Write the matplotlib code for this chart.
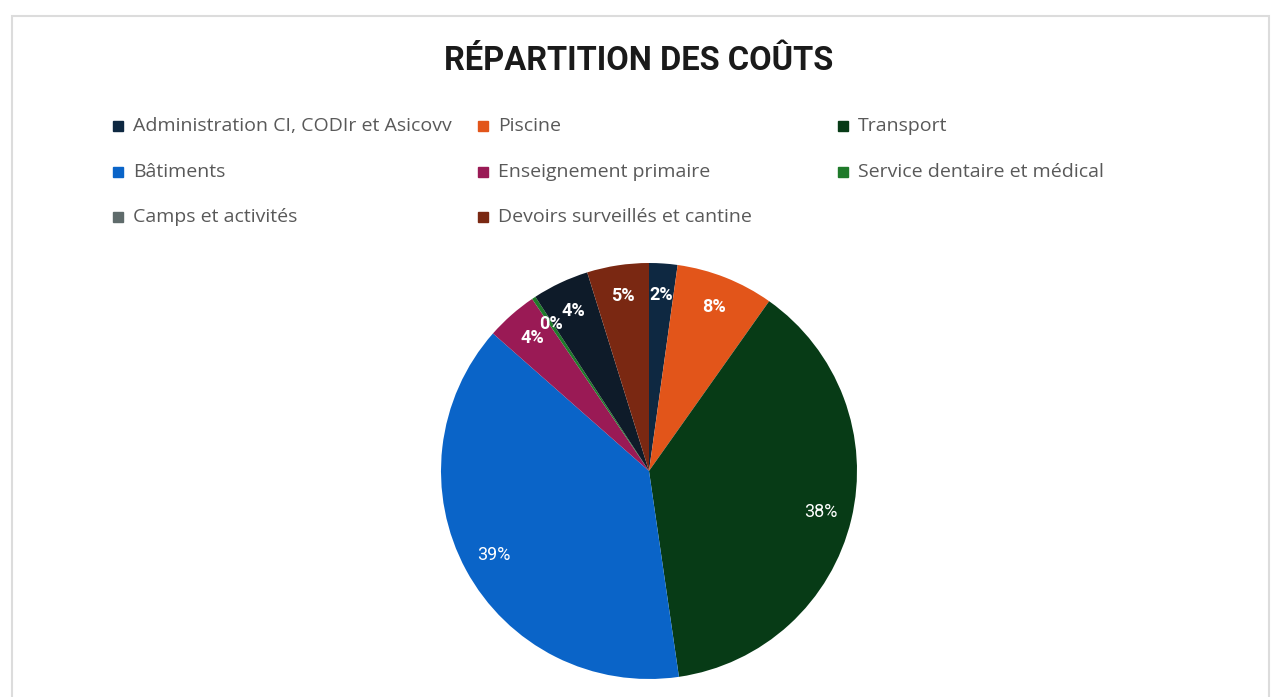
import matplotlib.pyplot as plt
from matplotlib.patches import Rectangle

categories = ['Administration CI, CODIr et Asicovv', 'Piscine', 'Transport',
              'Bâtiments', 'Enseignement primaire', 'Service dentaire et médical',
              'Camps et activités', 'Devoirs surveillés et cantine']
values = [2.2, 7.6, 37.9, 38.8, 4.0, 0.3, 4.4, 4.8]
slice_colors = ['#0e2841', '#e2551a', '#073b16', '#0a64c8', '#9a1a55',
                '#1f7a2a', '#0e1b29', '#7a2812']
legend_colors = ['#0e2841', '#e2551a', '#073b16', '#0a64c8', '#9a1a55',
                 '#1f7a2a', '#5f6b6b', '#7a2812']

W, H = 1273, 697
fig = plt.figure(figsize=(W / 100, H / 100), dpi=100)

# light frame of the chart area
fig.patches.append(Rectangle((12 / W, -0.01), 1257 / W, 1 - 16 / H + 0.01,
                             transform=fig.transFigure, fill=False,
                             edgecolor='#dcdcdc', linewidth=1.5))

fig.text(639 / W, 1 - 61 / H, 'RÉPARTITION DES COÛTS', ha='center', va='center',
         fontsize=23.5, fontweight='bold', family='Roboto', color='#1a1a1a')

# legend in three fixed columns
col_x = [113, 478, 838]
row_y = [126, 172, 217]
for i, (name, c) in enumerate(zip(categories, legend_colors)):
    x = col_x[i % 3]
    y = row_y[i // 3]
    fig.patches.append(Rectangle((x / W, 1 - (y + 5) / H), 10 / W, 10 / H,
                                 transform=fig.transFigure, color=c))
    fig.text((x + 20) / W, 1 - y / H, name, ha='left', va='center',
             fontsize=14, family='Open Sans', color='#595959')

ax = fig.add_axes([441 / W, 18 / H, 416 / W, 416 / H])
wedges, texts, autotexts = ax.pie(values, colors=slice_colors, startangle=90,
                                  counterclock=False, radius=1,
                                  autopct='%1.0f%%', pctdistance=0.85,
                                  wedgeprops=dict(linewidth=0),
                                  textprops=dict(color='white', fontsize=13,
                                                 family='Roboto'))
for t, v in zip(autotexts, values):
    if v < 10:
        t.set_fontweight('bold')
ax.set_xlim(-1, 1)
ax.set_ylim(-1, 1)
ax.axis('off')

fig.savefig('out.png', dpi=100)
